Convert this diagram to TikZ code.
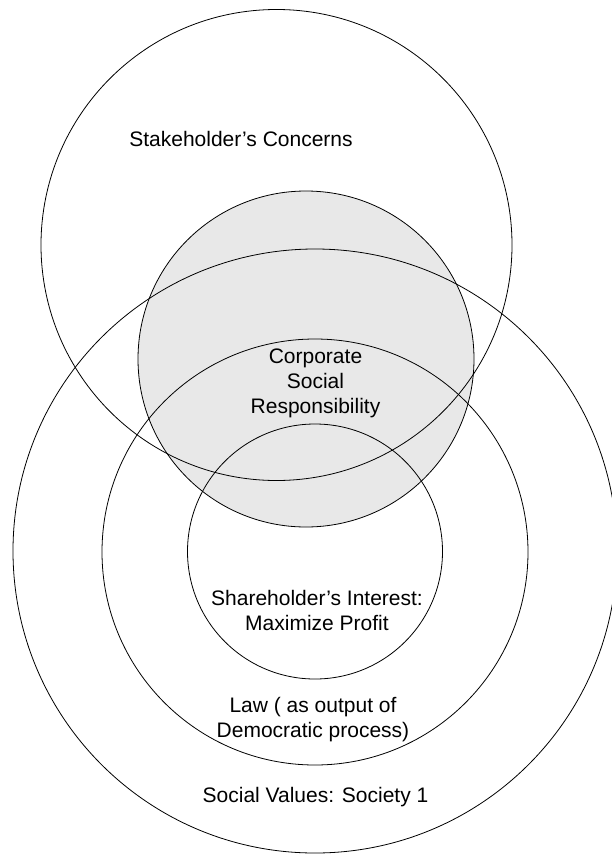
\documentclass[tikz,border=0pt]{standalone}
\usepackage{fontspec}
\setmainfont{Liberation Sans}
\definecolor{csrgray}{HTML}{E8E8E8}
\tikzset{
  ring/.style={draw=black, line width=0.8pt},
  lbl/.style={font=\fontsize{21}{25}\selectfont, inner sep=0pt, align=center, anchor=base}
}
\begin{document}
\begin{tikzpicture}[x=1pt, y=-1pt]
  \useasboundingbox (0,0) rectangle (611,854);
  % shaded CSR circle
  \fill[csrgray] (306,359) circle[radius=168];
  % outlines
  \draw[ring] (306,359) circle[radius=168];
  \draw[ring] (276.5,245) circle[radius=235.5];
  \draw[ring] (315,551) circle[radius=302];
  \draw[ring] (315,552) circle[radius=213];
  \draw[ring] (315,551.5) circle[radius=127.5];
  % labels (base anchor = baseline of last line)
  \node[lbl] (stake) at (241,146) {Stakeholder’s Concerns};
  \node[lbl] (csr) at (315.5,413) {Corporate\\Social\\Responsibility};
  \node[lbl] (share) at (317,630) {Shareholder’s Interest:\\Maximize Profit};
  \node[lbl] (law) at (313,737) {Law ( as output of\\Democratic process)};
  \node[lbl] (soc) at (315.5,802) {Social Values: Society 1};
\end{tikzpicture}
\end{document}
